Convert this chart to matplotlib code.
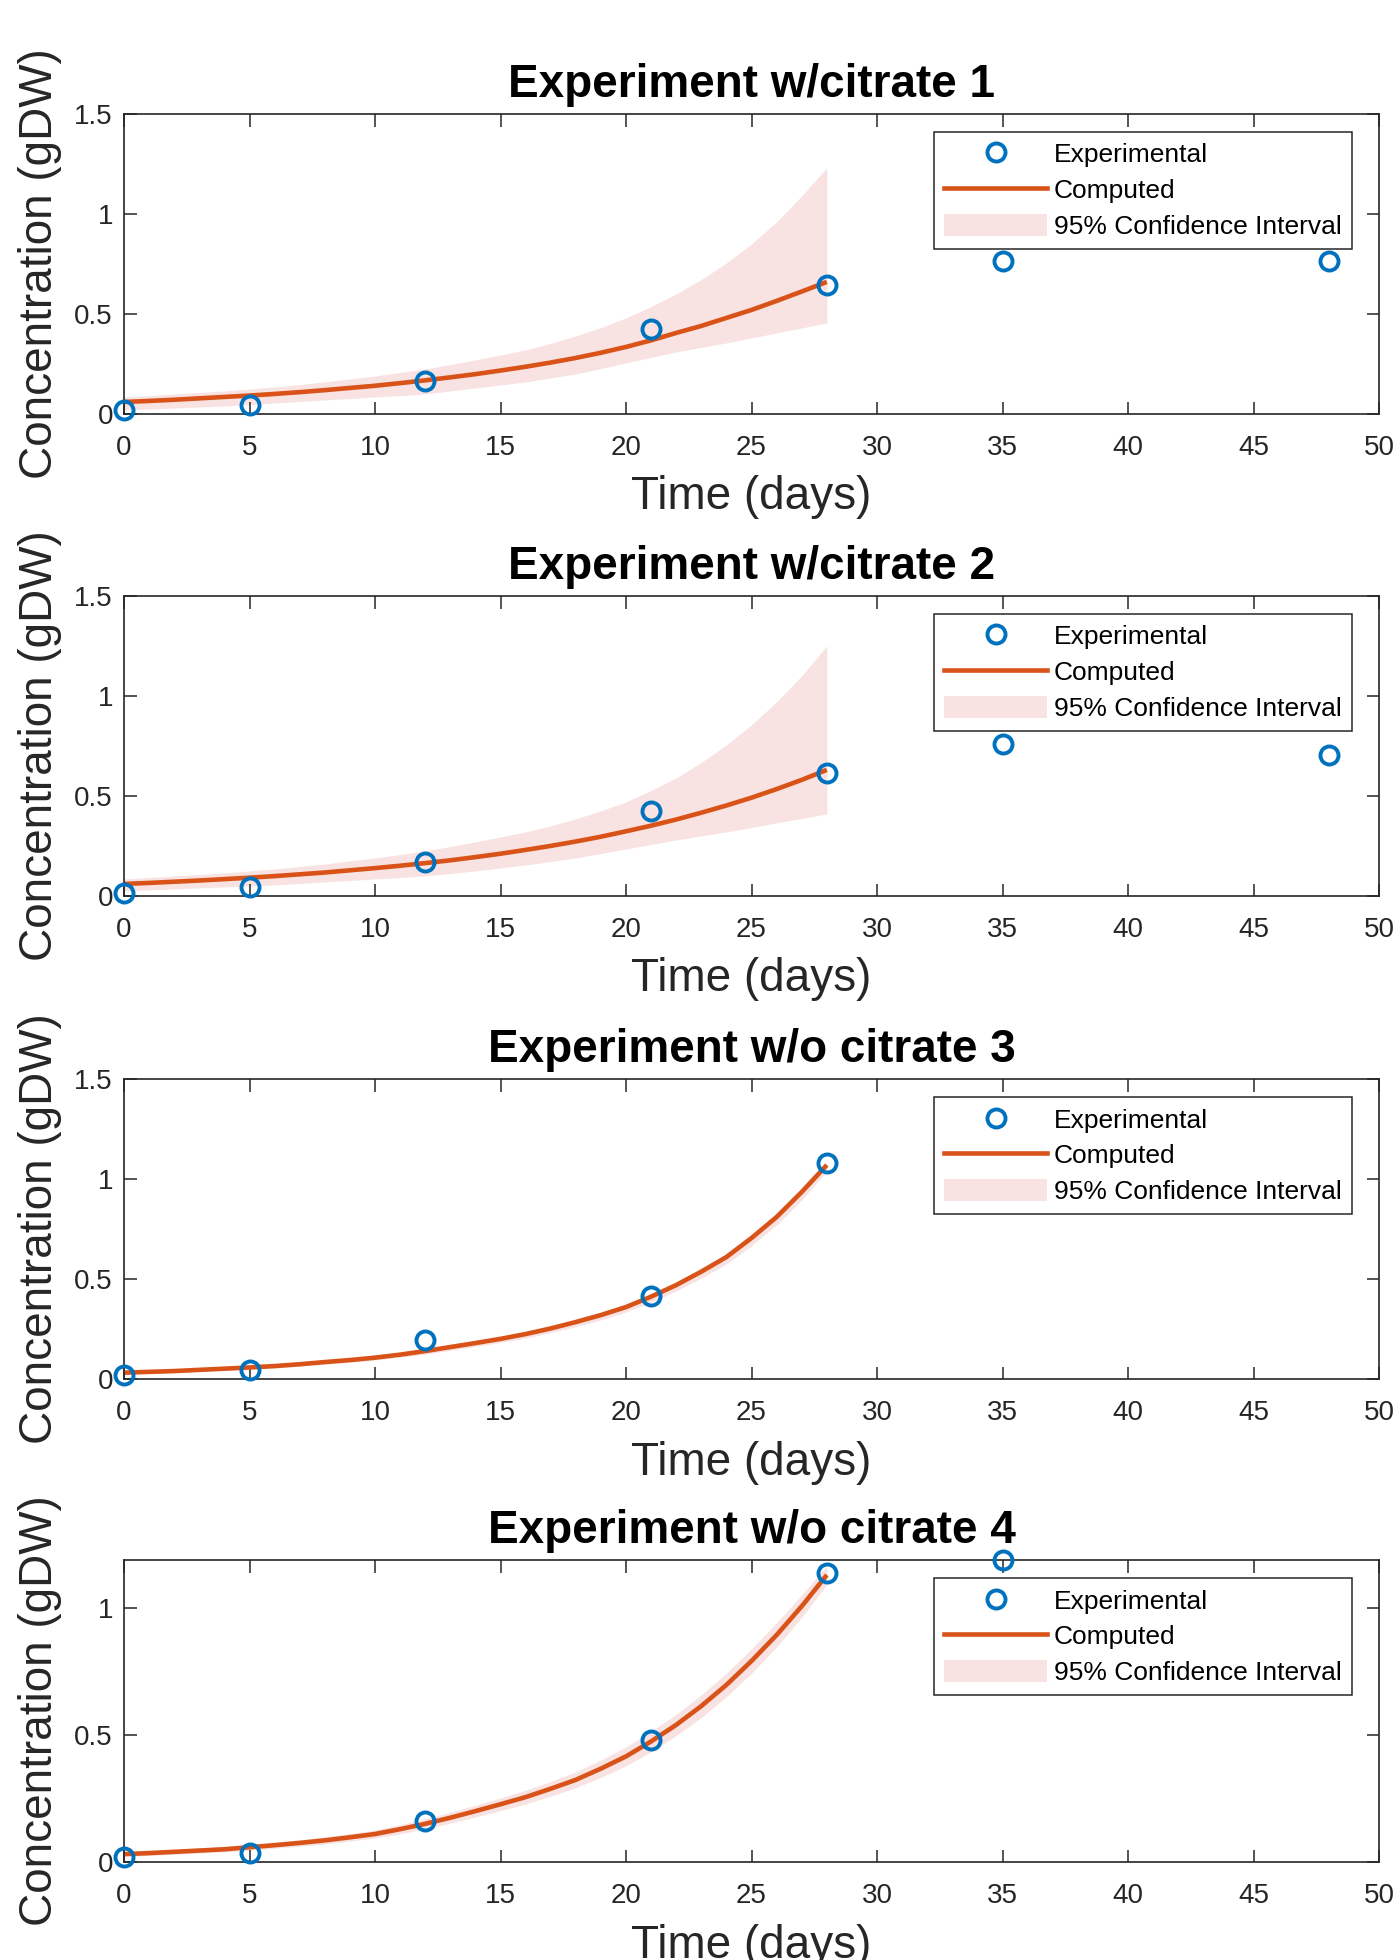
import matplotlib
matplotlib.use("Agg")
import matplotlib.pyplot as plt
from matplotlib.patches import Patch
from matplotlib.lines import Line2D

plt.rcParams['font.family'] = ['Liberation Sans', 'DejaVu Sans']

# experimental sampling days
t_exp = [0, 5, 12, 21, 28, 35, 48]
t_exp3 = [0, 5, 12, 21, 28]
t_exp4 = [0, 5, 12, 21, 28, 35]

exp1 = [0.02, 0.045, 0.167, 0.425, 0.645, 0.765, 0.765]
exp2 = [0.015, 0.045, 0.17, 0.425, 0.615, 0.76, 0.705]
exp3 = [0.02, 0.045, 0.195, 0.415, 1.08]
exp4 = [0.018, 0.035, 0.16, 0.48, 1.137, 1.187]

t_fit = [0, 1, 2, 3, 4, 5, 6, 7, 8, 9, 10, 11, 12, 13, 14,
         15, 16, 17, 18, 19, 20, 21, 22, 23, 24, 25, 26, 27, 28]

fit1 = [0.060, 0.065, 0.071, 0.078, 0.085, 0.092, 0.100, 0.109, 0.119, 0.130, 0.141, 0.154, 0.168, 0.183, 0.199,
        0.217, 0.236, 0.257, 0.280, 0.306, 0.335, 0.368, 0.405, 0.440, 0.480, 0.520, 0.565, 0.612, 0.660]
lo1 = [0.020, 0.025, 0.030, 0.035, 0.040, 0.047, 0.055, 0.062, 0.070, 0.077, 0.085, 0.092, 0.100, 0.115, 0.130,
       0.145, 0.160, 0.180, 0.200, 0.227, 0.255, 0.283, 0.310, 0.333, 0.355, 0.380, 0.405, 0.430, 0.455]
hi1 = [0.085, 0.092, 0.100, 0.107, 0.115, 0.125, 0.135, 0.147, 0.160, 0.175, 0.190, 0.207, 0.225, 0.247, 0.270,
       0.295, 0.320, 0.353, 0.390, 0.432, 0.480, 0.537, 0.600, 0.672, 0.755, 0.850, 0.960, 1.090, 1.230]

fit2 = [0.060, 0.065, 0.071, 0.077, 0.084, 0.091, 0.099, 0.108, 0.117, 0.128, 0.139, 0.151, 0.164, 0.178, 0.194,
        0.211, 0.230, 0.250, 0.272, 0.296, 0.323, 0.351, 0.382, 0.416, 0.452, 0.491, 0.534, 0.580, 0.630]
lo2 = [0.025, 0.030, 0.035, 0.040, 0.045, 0.050, 0.055, 0.062, 0.070, 0.077, 0.085, 0.092, 0.100, 0.112, 0.125,
       0.140, 0.155, 0.172, 0.190, 0.212, 0.235, 0.257, 0.280, 0.300, 0.320, 0.342, 0.365, 0.387, 0.410]
hi2 = [0.085, 0.092, 0.100, 0.107, 0.115, 0.125, 0.135, 0.147, 0.160, 0.175, 0.190, 0.207, 0.225, 0.247, 0.270,
       0.295, 0.320, 0.350, 0.385, 0.425, 0.470, 0.527, 0.590, 0.667, 0.755, 0.855, 0.970, 1.100, 1.250]

fit3 = [0.032, 0.036, 0.040, 0.046, 0.052, 0.058, 0.065, 0.074, 0.085, 0.095, 0.107, 0.122, 0.140, 0.160, 0.180,
        0.201, 0.225, 0.253, 0.285, 0.320, 0.360, 0.412, 0.470, 0.537, 0.610, 0.705, 0.810, 0.935, 1.070]
lo3 = [0.025, 0.029, 0.033, 0.038, 0.044, 0.050, 0.056, 0.065, 0.075, 0.084, 0.095, 0.109, 0.125, 0.144, 0.163,
       0.183, 0.205, 0.232, 0.262, 0.296, 0.335, 0.385, 0.440, 0.505, 0.575, 0.668, 0.770, 0.895, 1.040]
hi3 = [0.036, 0.040, 0.045, 0.050, 0.056, 0.063, 0.070, 0.080, 0.090, 0.100, 0.112, 0.128, 0.146, 0.166, 0.186,
       0.208, 0.232, 0.260, 0.292, 0.328, 0.368, 0.420, 0.478, 0.545, 0.620, 0.715, 0.820, 0.945, 1.080]

fit4 = [0.031, 0.035, 0.040, 0.045, 0.050, 0.058, 0.066, 0.075, 0.085, 0.097, 0.110, 0.129, 0.150, 0.174, 0.200,
        0.227, 0.255, 0.288, 0.323, 0.367, 0.415, 0.474, 0.539, 0.613, 0.696, 0.790, 0.892, 1.005, 1.128]
lo4 = [0.022, 0.026, 0.030, 0.035, 0.040, 0.047, 0.054, 0.062, 0.071, 0.082, 0.094, 0.111, 0.130, 0.153, 0.177,
       0.202, 0.228, 0.259, 0.292, 0.333, 0.378, 0.434, 0.497, 0.568, 0.650, 0.742, 0.845, 0.962, 1.090]
hi4 = [0.040, 0.045, 0.050, 0.055, 0.061, 0.069, 0.078, 0.088, 0.099, 0.112, 0.126, 0.147, 0.170, 0.196, 0.223,
       0.252, 0.282, 0.317, 0.354, 0.401, 0.452, 0.514, 0.580, 0.657, 0.742, 0.838, 0.940, 1.050, 1.165]

titles = ["Experiment w/citrate 1", "Experiment w/citrate 2",
          "Experiment w/o citrate 3", "Experiment w/o citrate 4"]

BLUE = "#0072BD"
ORANGE = "#D95319"
PINK = "#F8E2E2"
AXC = "#262626"

panels = [
    (t_exp, exp1, fit1, lo1, hi1, 1.5, [0, 0.5, 1, 1.5], ["0", "0.5", "1", "1.5"]),
    (t_exp, exp2, fit2, lo2, hi2, 1.5, [0, 0.5, 1, 1.5], ["0", "0.5", "1", "1.5"]),
    (t_exp3, exp3, fit3, lo3, hi3, 1.5, [0, 0.5, 1, 1.5], ["0", "0.5", "1", "1.5"]),
    (t_exp4, exp4, fit4, lo4, hi4, 1.187, [0, 0.5, 1], ["0", "0.5", "1"]),
]
# axes boxes in figure fractions (left, bottom, width, height)
boxes = [
    [0.0886, 0.7888, 0.8964, 0.1531],
    [0.0886, 0.5429, 0.8964, 0.1531],
    [0.0886, 0.2964, 0.8964, 0.1531],
    [0.0886, 0.0500, 0.8964, 0.1541],
]

fig = plt.figure(figsize=(14, 19.6), dpi=100)

for i, (te, ye, yf, ylo, yhi, ytop, yt, ytl) in enumerate(panels):
    ax = fig.add_axes(boxes[i])
    ax.fill_between(t_fit, ylo, yhi, color=PINK, lw=0)
    ax.plot(t_fit, yf, color=ORANGE, lw=3.3, solid_capstyle='butt')
    ax.plot(te, ye, 'o', mfc='none', mec=BLUE, ms=13, mew=2.8, clip_on=False, zorder=5)

    ax.set_xlim(0, 50)
    ax.set_ylim(0, ytop)
    ax.set_xticks(range(0, 51, 5))
    ax.set_yticks(yt)
    ax.set_yticklabels(ytl)
    ax.tick_params(direction='in', top=True, right=True, length=9, width=1.1,
                   color=AXC, labelcolor=AXC, labelsize=20)
    ax.tick_params(axis='x', pad=15)
    ax.tick_params(axis='y', pad=8)
    for s in ax.spines.values():
        s.set_color(AXC)
        s.set_linewidth(1.2)

    ax.set_title(titles[i], fontsize=33, fontweight='bold', pad=12)
    ax.set_xlabel("Time (days)", fontsize=33, color=AXC)
    ax.xaxis.set_label_coords(0.5, -0.205)
    ax.set_ylabel("Concentration (gDW)", fontsize=33, color=AXC, va='center')
    ax.yaxis.set_label_coords(-0.067, 0.5)

    handles = [
        Line2D([], [], ls='none', marker='o', mfc='none', mec=BLUE, ms=13, mew=2.8),
        Line2D([], [], color=ORANGE, lw=3.3),
        Patch(facecolor=PINK, edgecolor='none'),
    ]
    leg = ax.legend(handles, ["Experimental", "Computed", "95% Confidence Interval"],
                    loc='upper right', bbox_to_anchor=(0.9785, 0.94), fontsize=19,
                    frameon=True, fancybox=False, framealpha=1, edgecolor=AXC,
                    handlelength=3.9, handleheight=0.9, handletextpad=0.25,
                    labelspacing=0.4, borderpad=0.4, borderaxespad=0)
    leg.get_frame().set_linewidth(1.1)

fig.savefig("out.png", dpi=100)
